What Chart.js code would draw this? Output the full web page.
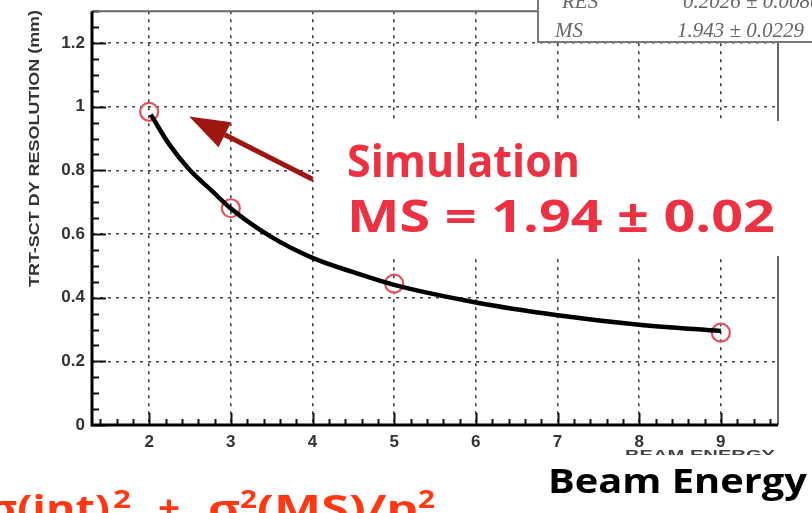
<!DOCTYPE html>
<html>
<head>
<meta charset="utf-8">
<script src="https://cdn.jsdelivr.net/npm/chart.js@4.4.0/dist/chart.umd.min.js"></script>
<style>
  body { margin: 0; background: #fff; }
  canvas { display: block; }
</style>
</head>
<body>
<canvas id="myChart" width="812" height="513"></canvas>
<script>
// measured points and fitted curve (resolution in mm vs beam energy)
const energies = [2, 3, 5, 9];
const resolution = [0.984, 0.681, 0.444, 0.29];
const fitEnergy = [2.02, 2.25, 2.5, 2.75, 3, 3.5, 4, 4.5, 5, 6, 7, 8, 9];
const fitResolution = [0.975, 0.88, 0.80, 0.74, 0.68, 0.59, 0.525, 0.48, 0.44, 0.385, 0.345, 0.315, 0.295];
const xTicks = [2, 3, 4, 5, 6, 7, 8, 9];
const yTicks = [0, 0.2, 0.4, 0.6, 0.8, 1, 1.2];
const statNames = ['RES', 'MS'];
const statValues = ['0.2026 ± 0.00805', '1.943 ± 0.0229'];
const simLabel = 'Simulation';
const simResult = 'MS = 1.94 ± 0.02';
const xTitle = 'BEAM ENERGY';
const yTitle = 'TRT-SCT DY RESOLUTION (mm)';

// arrow from the label towards the first point, in data units
const arrowTail = { x: 4.0, y: 0.772 };
const arrowTip = { x: 2.49, y: 0.969 };

function fitText(ctx, text, left, right, baseline) {
    const w = ctx.measureText(text).width;
    ctx.save();
    ctx.translate(left, baseline);
    ctx.scale((right - left) / w, 1);
    ctx.textAlign = 'left';
    ctx.textBaseline = 'alphabetic';
    ctx.fillText(text, 0, 0);
    ctx.restore();
}

const overlay = {
    id: 'overlay',
    afterDraw(chart) {
        const ctx = chart.ctx;
        const a = chart.chartArea;
        const xs = chart.scales.x;
        const ys = chart.scales.y;
        ctx.save();
        ctx.textBaseline = 'alphabetic';

        // ticks pointing into the frame
        ctx.strokeStyle = '#111';
        ctx.lineWidth = 2;
        ctx.beginPath();
        for (let i = 0; i <= 26; i++) {
            const py = Math.round(ys.getPixelForValue(i * 0.05)) + 0.5;
            const len = i % 4 === 0 ? 14 : 7;
            ctx.moveTo(a.left, py);
            ctx.lineTo(a.left + len, py);
        }
        for (let i = 7; i <= 48; i++) {
            const px = Math.round(xs.getPixelForValue(i * 0.2)) + 0.5;
            const len = i % 5 === 0 ? 12 : 6;
            ctx.moveTo(px, a.bottom);
            ctx.lineTo(px, a.bottom - len);
        }
        ctx.stroke();

        // frame
        ctx.strokeStyle = '#666';
        ctx.lineWidth = 2;
        ctx.beginPath();
        ctx.moveTo(a.left, a.top);
        ctx.lineTo(a.right, a.top);
        ctx.lineTo(a.right, a.bottom);
        ctx.stroke();
        ctx.strokeStyle = '#000';
        ctx.lineWidth = 3;
        ctx.beginPath();
        ctx.moveTo(a.left, a.top);
        ctx.lineTo(a.left, a.bottom);
        ctx.lineTo(a.right, a.bottom);
        ctx.stroke();

        // axis titles
        ctx.fillStyle = '#333';
        ctx.font = 'bold 14px "Liberation Sans"';
        ctx.save();
        ctx.translate(39, 287);
        ctx.rotate(-Math.PI / 2);
        fitText(ctx, yTitle, 0, 277, 0);
        ctx.restore();
        ctx.fillStyle = '#444';
        ctx.font = 'bold 13px "Liberation Sans"';
        fitText(ctx, xTitle, 625, 775, 459);

        // stats box
        ctx.fillStyle = '#fff';
        ctx.fillRect(538, -5, 290, 47);
        ctx.strokeStyle = '#777';
        ctx.lineWidth = 2;
        ctx.strokeRect(538, -5, 290, 47);
        ctx.fillStyle = '#666';
        ctx.font = 'italic 21px "Liberation Serif"';
        ctx.fillText(statNames[0], 562, 8);
        ctx.fillText(statNames[1], 555, 37);
        ctx.fillText(statValues[0], 683, 8);
        ctx.fillText(statValues[1], 677, 37);

        // arrow
        const tx = xs.getPixelForValue(arrowTip.x), ty = ys.getPixelForValue(arrowTip.y);
        const sx = xs.getPixelForValue(arrowTail.x), sy = ys.getPixelForValue(arrowTail.y);
        const ang = Math.atan2(ty - sy, tx - sx);
        const headLen = 40, headHalf = 14;
        const bx = tx - headLen * Math.cos(ang), by = ty - headLen * Math.sin(ang);
        ctx.strokeStyle = 'rgb(158,22,16)';
        ctx.fillStyle = 'rgb(158,22,16)';
        ctx.lineWidth = 5;
        ctx.beginPath();
        ctx.moveTo(sx, sy);
        ctx.lineTo(bx, by);
        ctx.stroke();
        ctx.beginPath();
        ctx.moveTo(tx, ty);
        ctx.lineTo(bx + headHalf * Math.sin(ang), by - headHalf * Math.cos(ang));
        ctx.lineTo(bx - headHalf * Math.sin(ang), by + headHalf * Math.cos(ang));
        ctx.closePath();
        ctx.fill();

        // result label on a white panel
        ctx.fillStyle = '#fff';
        ctx.fillRect(322, 121, 490, 135);
        ctx.fillStyle = 'rgb(236,49,66)';
        ctx.font = 'bold 45px "Open Sans", "DejaVu Sans", sans-serif';
        fitText(ctx, simLabel, 347, 580, 177);
        fitText(ctx, simResult, 347, 775, 232);

        // lower caption area
        ctx.fillStyle = '#fff';
        ctx.fillRect(0, 455, 812, 58);
        ctx.fillStyle = '#000';
        ctx.font = 'bold 34px "Open Sans", "DejaVu Sans", sans-serif';
        fitText(ctx, 'Beam Energy', 548, 807, 493);

        ctx.fillStyle = 'rgb(255,56,20)';
        ctx.font = 'bold 36px "Open Sans", "DejaVu Sans", sans-serif';
        fitText(ctx, 'σ(int)', -12, 110, 521);
        fitText(ctx, '+', 158, 180, 521);
        fitText(ctx, 'σ', 208, 240, 521);
        fitText(ctx, '(MS)/p', 257, 418, 521);
        ctx.font = 'bold 25px "Open Sans", "DejaVu Sans", sans-serif';
        fitText(ctx, '2', 113, 131, 508);
        fitText(ctx, '2', 240, 257, 508);
        fitText(ctx, '2', 418, 435, 508);

        ctx.restore();
    }
};

const tickFont = { family: 'Liberation Sans', weight: 'bold', size: 17 };

const ctx = document.getElementById('myChart').getContext('2d');
const myChart = new Chart(ctx, {
    type: 'scatter',
    data: {
        datasets: [{
            label: 'fit',
            data: fitEnergy.map((e, i) => ({ x: e, y: fitResolution[i] })),
            showLine: true,
            borderColor: '#000',
            borderWidth: 4.5,
            pointRadius: 0,
            cubicInterpolationMode: 'monotone',
            order: 0
        }, {
            label: 'simulation',
            data: energies.map((e, i) => ({ x: e, y: resolution[i] })),
            showLine: false,
            pointRadius: 9,
            pointBorderWidth: 2.2,
            pointBorderColor: 'rgb(228,80,92)',
            pointBackgroundColor: 'rgba(0,0,0,0)',
            order: 1
        }]
    },
    options: {
        responsive: false,
        animation: false,
        devicePixelRatio: 1,
        layout: { padding: { top: 9, right: 34, left: 0, bottom: 0 } },
        plugins: { legend: { display: false }, tooltip: { enabled: false } },
        scales: {
            x: {
                type: 'linear',
                min: 1.3,
                max: 9.7,
                afterBuildTicks: (scale) => { scale.ticks = xTicks.map(v => ({ value: v })); },
                afterFit: (scale) => {
                    scale.height = 88;
                    scale.paddingLeft = 0;
                    scale.paddingRight = 0;
                },
                grid: { color: 'rgba(45,45,45,0.9)', lineWidth: 1.6, drawTicks: false },
                border: { display: false, dash: [3, 5] },
                ticks: { padding: 7, color: '#333', font: tickFont, callback: (v) => String(v) }
            },
            y: {
                min: 0,
                max: 1.3,
                afterBuildTicks: (scale) => { scale.ticks = yTicks.map(v => ({ value: v })); },
                afterFit: (scale) => {
                    scale.width = 92;
                    scale.paddingTop = 0;
                    scale.paddingBottom = 0;
                },
                grid: { color: 'rgba(45,45,45,0.9)', lineWidth: 1.6, drawTicks: false },
                border: { display: false, dash: [3, 5] },
                ticks: { padding: 7, color: '#333', font: tickFont, callback: (v) => String(+v.toFixed(1)) }
            }
        }
    },
    plugins: [overlay]
});
</script>
</body>
</html>
